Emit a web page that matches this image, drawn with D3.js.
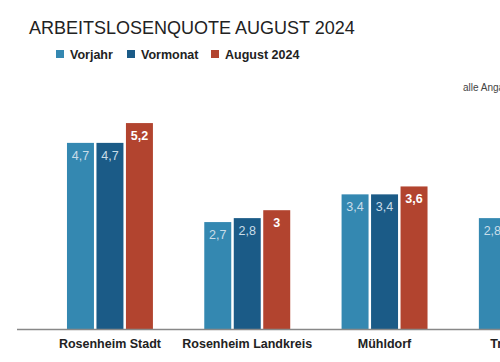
<!DOCTYPE html>
<html><head><meta charset="utf-8">
<script src="https://cdn.jsdelivr.net/npm/d3@7"></script>
<style>body{margin:0;background:#fff;overflow:hidden}svg{display:block}</style>
</head><body>
<svg id="c" width="500" height="362"></svg>
<script>
const categories = ["Rosenheim Stadt", "Rosenheim Landkreis", "Mühldorf", "Traunstein"];
const seriesNames = ["Vorjahr", "Vormonat", "August 2024"];
const vorjahr = [4.7, 2.7, 3.4, 2.8];
const vormonat = [4.7, 2.8, 3.4, 2.9];
const august2024 = [5.2, 3.0, 3.6, 3.0];
const colors = ["#3488b1", "#1b5b87", "#b2442f"];
const title = "ARBEITSLOSENQUOTE AUGUST 2024";
const note = "alle Angaben in Prozent";

const series = [vorjahr, vormonat, august2024];
const svg = d3.select("#c");
const fmt = v => d3.format(".1~f")(v).replace(".", ",");

const x0 = d3.scaleBand().domain(categories).range([41.3, 590.5]).paddingInner(0.374).paddingOuter(0.187);
const x1 = d3.scaleBand().domain(seriesNames).range([0, x0.bandwidth()]).paddingInner(0.085);
const y = d3.scaleLinear().domain([0, 6]).range([329, 91.4]);

svg.append("text").attr("x", 29).attr("y", 34).attr("font-family", "Liberation Sans, Arial, sans-serif")
  .attr("font-size", 18).attr("fill", "#222").text(title);

// legend
const lx = [56, 127, 211];
seriesNames.forEach((s, i) => {
  svg.append("rect").attr("x", lx[i]).attr("y", 50).attr("width", 8).attr("height", 8).attr("fill", colors[i]);
  svg.append("text").attr("x", lx[i] + 14).attr("y", 58.5).attr("font-family", "Liberation Sans, Arial, sans-serif")
    .attr("font-size", 12.5).attr("font-weight", "bold").attr("fill", "#222").text(s);
});

svg.append("text").attr("x", 463).attr("y", 91).attr("font-family", "Liberation Sans, Arial, sans-serif")
  .attr("font-size", 10).attr("fill", "#444").text(note);

// bars
const g = svg.append("g");
categories.forEach((c, ci) => {
  const gg = g.append("g").attr("transform", `translate(${x0(c)},0)`);
  seriesNames.forEach((s, si) => {
    const v = series[si][ci];
    gg.append("rect").attr("x", x1(s)).attr("y", y(v)).attr("width", x1.bandwidth())
      .attr("height", y(0) - y(v)).attr("fill", colors[si]);
    gg.append("text").attr("x", x1(s) + x1.bandwidth() / 2).attr("y", y(v) + 17)
      .attr("text-anchor", "middle").attr("font-family", "Liberation Sans, Arial, sans-serif")
      .attr("font-size", 12.5)
      .attr("font-weight", si === 2 ? "bold" : "normal")
      .attr("fill", si === 2 ? "#fff" : "#c9dde9")
      .text(fmt(v));
  });
});

// axis
const axis = svg.append("g").attr("transform", "translate(0,329)")
  .call(d3.axisBottom(x0).tickSize(0).tickPadding(10));
axis.select(".domain").remove();
svg.append("line").attr("x1", 17).attr("x2", 500).attr("y1", 329.5).attr("y2", 329.5)
  .attr("stroke", "#888").attr("stroke-width", 1.5);
axis.selectAll("text").attr("font-family", "Liberation Sans, Arial, sans-serif")
  .attr("font-size", 12.5).attr("font-weight", "bold").attr("fill", "#222");
</script>
</body></html>
